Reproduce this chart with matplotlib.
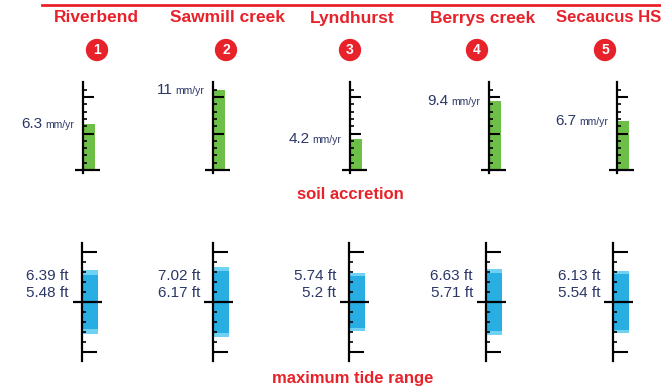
import matplotlib
matplotlib.use("Agg")
import matplotlib.pyplot as plt
from matplotlib.lines import Line2D
from matplotlib.offsetbox import TextArea, HPacker, AnnotationBbox

# ---------------- data ----------------
sites = ["Riverbend", "Sawmill creek", "Lyndhurst", "Berrys creek", "Secaucus HS"]
site_numbers = ["1", "2", "3", "4", "5"]
accretion_mm_yr = [6.3, 11, 4.2, 9.4, 6.7]
accretion_labels = ["6.3", "11", "4.2", "9.4", "6.7"]
tide_outer_ft = [6.39, 7.02, 5.74, 6.63, 6.13]
tide_inner_ft = [5.48, 6.17, 5.2, 5.71, 5.54]
tide_outer_labels = ["6.39 ft", "7.02 ft", "5.74 ft", "6.63 ft", "6.13 ft"]
tide_inner_labels = ["5.48 ft", "6.17 ft", "5.2 ft", "5.71 ft", "5.54 ft"]

# ---------------- style / layout ----------------
W, H = 661, 389
RED = "#e8222b"
NAVY = "#2b3766"
GREEN = "#6dbf47"
LIGHT_BLUE = "#6fd2f2"
DARK_BLUE = "#28aee3"
FONT = ["Liberation Sans Narrow", "Liberation Sans", "DejaVu Sans"]
plt.rcParams["font.family"] = FONT

fig = plt.figure(figsize=(W / 100, H / 100), dpi=100)

def px_axes(left, top, width, height):
    return fig.add_axes([left / W, 1 - (top + height) / H, width / W, height / H])

title_x = [96, 227, 352, 483, 609]
circle_x = [97, 226, 350, 477, 605]
top_spine_x = [83, 213, 350, 489, 617]
bot_spine_x = [82, 213, 349, 486, 613]

# top rule
fig.add_artist(Line2D([42 / W, 1.0], [1 - 5 / H, 1 - 5 / H], color=RED, lw=2))

for i in range(5):
    fig.text(title_x[i] / W, 1 - 18 / H, sites[i], ha="center", va="center",
             color=RED, fontsize=12 if i == 4 else 12.5, fontweight="bold")
    fig.text(circle_x[i] / W, 1 - 50 / H, site_numbers[i], ha="center", va="center",
             color="white", fontsize=10, fontweight="bold",
             bbox=dict(boxstyle="circle,pad=0.3", fc=RED, ec="none"))

def style_axis(ax, major, minor, major_len, minor_len):
    ax.set_axisbelow(False)
    for s in ["top", "right", "bottom"]:
        ax.spines[s].set_visible(False)
    ax.spines["left"].set_position(("data", 0))
    ax.spines["left"].set_linewidth(1.6)
    ax.spines["left"].set_zorder(5)
    ax.set_xticks([])
    ax.set_yticks(major)
    ax.set_yticks(minor, minor=True)
    ax.tick_params(axis="y", which="major", direction="in", length=major_len,
                   width=1.5, labelleft=False, zorder=6)
    ax.tick_params(axis="y", which="minor", direction="in", length=minor_len,
                   width=1.2, labelleft=False, zorder=6)
    ax.patch.set_visible(False)

# ---------------- soil accretion ----------------
TOP_ZERO, TOP_SCALE = 170, 7.3
T_YMIN, T_YMAX = -0.4, 12
for i in range(5):
    sx = top_spine_x[i]
    ax = px_axes(sx - 8, TOP_ZERO - T_YMAX * TOP_SCALE, 25,
                 (T_YMAX - T_YMIN) * TOP_SCALE)
    ax.set_xlim(-8, 17)
    ax.set_ylim(T_YMIN, T_YMAX)
    ax.bar(0, accretion_mm_yr[i], width=12, align="edge", color=GREEN, zorder=1)
    ax.axhline(0, color="black", lw=1.6, zorder=6)
    style_axis(ax, [5, 10], [1, 2, 3, 4, 6, 7, 8, 9, 11], 8, 3)
    box = HPacker(children=[
        TextArea(accretion_labels[i], textprops=dict(color=NAVY, fontsize=11)),
        TextArea("mm/yr", textprops=dict(color=NAVY, fontsize=7.5)),
    ], align="baseline", pad=0, sep=2)
    ab = AnnotationBbox(box, (0, accretion_mm_yr[i]), xybox=(-9, 0),
                        xycoords="data", boxcoords="offset pixels",
                        box_alignment=(1, 0.5), frameon=False, annotation_clip=False)
    ax.add_artist(ab)

fig.text(350 / W, 1 - 195 / H, "soil accretion", ha="center", va="center",
         color=RED, fontsize=12, fontweight="bold")

# ---------------- maximum tide range ----------------
BOT_ZERO, BOT_SCALE = 302, 10
B_LIM = 5.9
for i in range(5):
    sx = bot_spine_x[i]
    ax = px_axes(sx - 9, BOT_ZERO - B_LIM * BOT_SCALE, 29, 2 * B_LIM * BOT_SCALE)
    ax.set_xlim(-9, 20)
    ax.set_ylim(-B_LIM, B_LIM)
    ax.bar(0, tide_outer_ft[i], bottom=-tide_outer_ft[i] / 2, width=16,
           align="edge", color=LIGHT_BLUE, zorder=1)
    ax.bar(0, tide_inner_ft[i], bottom=-tide_inner_ft[i] / 2, width=16,
           align="edge", color=DARK_BLUE, zorder=1.2)
    ax.axhline(0, color="black", lw=1.6, zorder=6)
    style_axis(ax, [-5, 5], [-4, -3, -2, -1, 1, 2, 3, 4], 11, 3)
    ax.annotate(tide_outer_labels[i], (0, 0), xytext=(-13, 26),
                textcoords="offset pixels", ha="right", va="center",
                color=NAVY, fontsize=11, annotation_clip=False)
    ax.annotate(tide_inner_labels[i], (0, 0), xytext=(-13, 9),
                textcoords="offset pixels", ha="right", va="center",
                color=NAVY, fontsize=11, annotation_clip=False)

fig.text(353 / W, 1 - 378 / H, "maximum tide range", ha="center", va="center",
         color=RED, fontsize=12, fontweight="bold")

fig.savefig("out.png", dpi=100)
